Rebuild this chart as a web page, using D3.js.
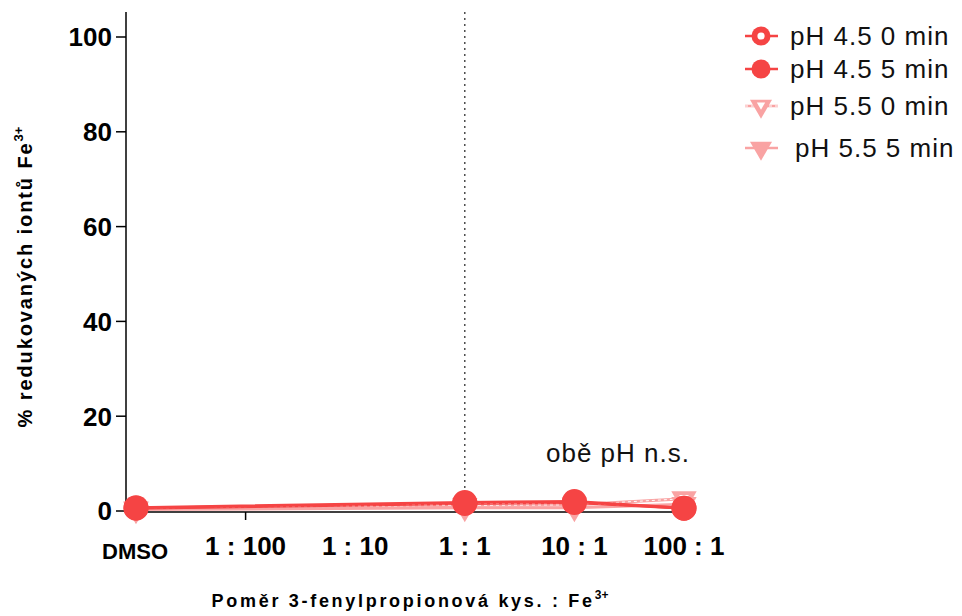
<!DOCTYPE html>
<html>
<head>
<meta charset="utf-8">
<script src="https://cdn.jsdelivr.net/npm/d3@7"></script>
<style>
  body { margin: 0; background: #fff; }
  text { font-family: "Liberation Sans", Arial, sans-serif; }
</style>
</head>
<body>
<svg id="chart" width="962" height="616"></svg>
<script>
// categories on the x axis
let categories = ["DMSO", "1 : 100", "1 : 10", "1 : 1", "10 : 1", "100 : 1"]
// x categories where data was measured
let measured = ["DMSO", "1 : 1", "10 : 1", "100 : 1"]
let ph45_0 = [0.6, 1.6, 1.8, 0.6]
let ph45_5 = [0.7, 1.8, 2.0, 0.6]
let ph55_0 = [0.5, 1.2, 1.3, 2.6]
let ph55_5 = [0.3, 0.7, 0.7, 1.4]
let yTicks = [0, 20, 40, 60, 80, 100]
let seriesNames = ["pH 4.5 0 min", "pH 4.5 5 min", "pH 5.5 0 min", "pH 5.5 5 min"]

const red = "#f54444"
const pink = "#f9a3a3"

let svg = d3.select("#chart")

let x = d3.scalePoint().domain(categories).range([136, 684])
let y = d3.scaleLinear().domain([0, 100]).range([511, 37])

// y axis
let yAxis = svg.append("g").attr("transform", "translate(126,0)")
yAxis.append("line").attr("x1", 0).attr("x2", 0).attr("y1", 12).attr("y2", y(0) + 1)
    .attr("stroke", "#000").attr("stroke-width", 1.5)
yAxis.selectAll(".tk").data(yTicks).enter().append("line")
    .attr("x1", -10).attr("x2", 0).attr("y1", d => y(d)).attr("y2", d => y(d))
    .attr("stroke", "#000").attr("stroke-width", 1.5)
yAxis.selectAll(".lb").data(yTicks).enter().append("text")
    .attr("x", -14).attr("y", d => y(d)).attr("dy", "0.36em")
    .attr("text-anchor", "end").attr("font-size", 26).attr("font-weight", "bold")
    .text(d => d)

// x axis
svg.append("line").attr("x1", 126).attr("x2", 684).attr("y1", y(0) + 1).attr("y2", y(0) + 1)
    .attr("stroke", "#000").attr("stroke-width", 1.5)
svg.append("line").attr("x1", x("1 : 100")).attr("x2", x("1 : 100"))
    .attr("y1", y(0) + 1).attr("y2", y(0) + 9)
    .attr("stroke", "#000").attr("stroke-width", 1.5)
svg.selectAll(".xl").data(categories).enter().append("text")
    .attr("x", d => d == "DMSO" ? x(d) - 1 : x(d))
    .attr("y", d => d == "DMSO" ? 559 : 555)
    .attr("text-anchor", "middle")
    .attr("font-size", d => d == "DMSO" ? 22 : 26)
    .attr("font-weight", "bold")
    .text(d => d)

// dotted vertical line at 1:1
svg.append("line").attr("x1", x("1 : 1")).attr("x2", x("1 : 1"))
    .attr("y1", 12).attr("y2", y(0))
    .attr("stroke", "#333").attr("stroke-width", 1.3).attr("stroke-dasharray", "2,4")

// axis titles
let yt = svg.append("text").attr("transform", "translate(32,277) rotate(-90)")
    .attr("text-anchor", "middle").attr("font-size", 20).attr("font-weight", "bold")
    .attr("letter-spacing", 1.9)
yt.append("tspan").text("% redukovaných iontů Fe")
yt.append("tspan").attr("font-size", 13).attr("dy", -9).attr("letter-spacing", 0).text("3+")

let xt = svg.append("text").attr("x", 410).attr("y", 607)
    .attr("text-anchor", "middle").attr("font-size", 18).attr("font-weight", "bold")
    .attr("letter-spacing", 2.7)
xt.append("tspan").text("Poměr 3-fenylpropionová kys. : Fe")
xt.append("tspan").attr("font-size", 12).attr("dy", -8).attr("letter-spacing", 0).text("3+")

svg.append("text").attr("x", 618).attr("y", 462).attr("text-anchor", "middle")
    .attr("font-size", 26).attr("letter-spacing", 1).attr("fill", "#111").text("obě pH n.s.")

// series
let series = [
    { name: seriesNames[2], vals: ph55_0, color: pink, shape: "tri", open: true },
    { name: seriesNames[3], vals: ph55_5, color: pink, shape: "tri", open: false },
    { name: seriesNames[0], vals: ph45_0, color: red, shape: "circle", open: true },
    { name: seriesNames[1], vals: ph45_5, color: red, shape: "circle", open: false }
]

let line = d3.line().x((d, i) => x(measured[i])).y(d => y(d))

function drawMarker(g, s, cx, cy, big) {
    let r = big ? 12.5 : 9.5
    if (s.shape == "circle") {
        g.append("circle").attr("cx", cx).attr("cy", cy).attr("r", r).attr("fill", s.color)
        if (s.open) g.append("circle").attr("cx", cx).attr("cy", cy).attr("r", r * 0.38).attr("fill", "#fff")
    } else {
        let sym = d3.symbol().type(d3.symbolTriangle).size(big ? 280 : 210)
        g.append("path").attr("d", sym()).attr("fill", s.color)
            .attr("transform", `translate(${cx},${cy}) rotate(180)`)
        if (s.open) g.append("path").attr("d", d3.symbol().type(d3.symbolTriangle).size(big ? 40 : 30)())
            .attr("fill", "#fff").attr("transform", `translate(${cx},${cy - 1}) rotate(180)`)
    }
}

series.forEach(s => {
    let g = svg.append("g")
    g.append("path").datum(s.vals).attr("d", line).attr("fill", "none")
        .attr("stroke", s.color).attr("stroke-width", 3)
    if (s.open) {
        g.append("path").datum(s.vals).attr("d", line).attr("fill", "none")
            .attr("stroke", "#fff").attr("stroke-width", 1).attr("stroke-dasharray", "3,3")
    }
    s.vals.forEach((v, i) => drawMarker(g, s, x(measured[i]), y(v), true))
})

// legend
let legendY = [36, 69, 106, 148]
let legendOrder = [series[2], series[3], series[0], series[1]]
legendOrder.forEach((s, i) => {
    let g = svg.append("g")
    let ly = legendY[i]
    g.append("line").attr("x1", 745).attr("x2", 778).attr("y1", ly).attr("y2", ly)
        .attr("stroke", s.color).attr("stroke-width", 2.5)
    if (s.open && s.shape == "tri") {
        g.append("line").attr("x1", 745).attr("x2", 778).attr("y1", ly).attr("y2", ly)
            .attr("stroke", "#fff").attr("stroke-width", 1).attr("stroke-dasharray", "3,3")
    }
    drawMarker(g, s, 761, ly, false)
    g.append("text").attr("x", i == 3 ? 795 : 790).attr("y", ly).attr("dy", "0.36em")
        .attr("font-size", 26).attr("letter-spacing", 1).attr("fill", "#111").text(s.name)
})
</script>
</body>
</html>
